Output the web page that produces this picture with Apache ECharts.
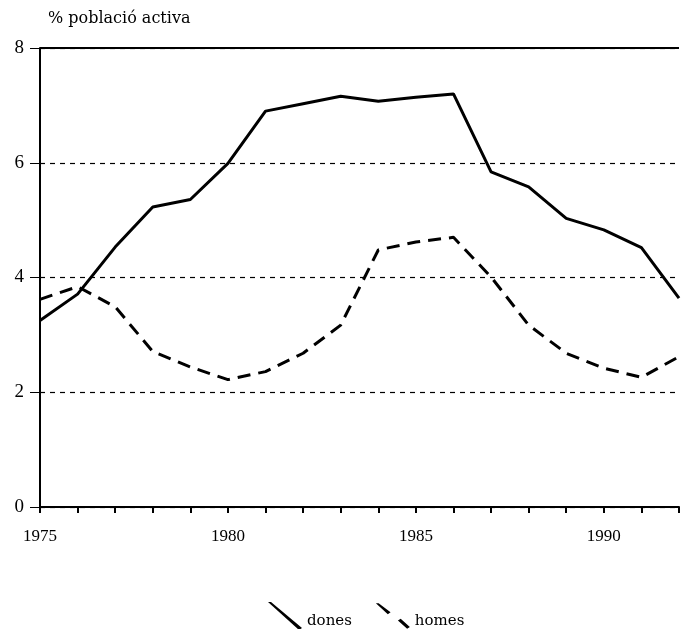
<!DOCTYPE html>
<html>
<head>
<meta charset="utf-8">
<script src="https://cdn.jsdelivr.net/npm/echarts@6/dist/echarts.min.js"></script>
<style>html,body{margin:0;padding:0;background:#fff;}#c{width:682px;height:629px;}</style>
</head>
<body>
<div id="c"></div>
<script>
const years = [1975,1976,1977,1978,1979,1980,1981,1982,1983,1984,1985,1986,1987,1988,1989,1990,1991,1992];
const dones = [3.25,3.71,4.53,5.23,5.36,5.99,6.90,7.03,7.16,7.07,7.14,7.20,5.84,5.58,5.03,4.83,4.52,3.64];
const homes = [3.62,3.84,3.49,2.71,2.44,2.22,2.36,2.68,3.17,4.48,4.62,4.70,4.01,3.17,2.68,2.42,2.26,2.62];
const xLabels = [1975,1980,1985,1990];
const yTicks = [0,2,4,6,8];
const titleText = '% població activa';
const names = ['dones','homes'];

const numFont = 'Liberation Serif';
const wordFont = 'DejaVu Serif';
const chart = echarts.init(document.getElementById('c'));
chart.setOption({
  animation: false,
  backgroundColor: '#fff',
  title: {text: titleText, left: 48, top: 11, padding: 0,
    textStyle: {fontFamily: wordFont, fontSize: 16, fontWeight: 'normal', color: '#000'}},
  grid: {left: 40, right: 0, top: 48, bottom: 122},
  legend: {
    left: 263, top: 597, itemGap: 24, itemWidth: 34, itemHeight: 28,
    formatter: n => '{t|' + n + '}',
    textStyle: {fontFamily: wordFont, fontSize: 15, color: '#000',
      rich: {t: {fontFamily: wordFont, fontSize: 15, color: '#000', padding: [10,0,0,0]}}},
    data: [
      {name: names[0], icon: 'path://M0,0 L3,0 L34,26 L31,28 Z'},
      {name: names[1], icon: 'path://M0,0 L3,0 L16,10 L13,12 Z M24,19 L27,17 L37,26 L34,28 Z'}
    ]
  },
  xAxis: {
    type: 'value', min: 1975, max: 1992, interval: 1,
    axisLine: {show: true, onZero: false, lineStyle: {color: '#000', width: 2}},
    axisTick: {show: true, length: 6, lineStyle: {color: '#000', width: 2}},
    axisLabel: {margin: 21, fontFamily: numFont, fontSize: 17, color: '#000',
      formatter: v => xLabels.includes(v) ? String(v) : ''},
    splitLine: {show: false}
  },
  yAxis: {
    type: 'value', min: yTicks[0], max: yTicks[yTicks.length-1], interval: 2,
    axisLine: {show: true, lineStyle: {color: '#000', width: 2}},
    axisTick: {show: true, length: 10, lineStyle: {color: '#000', width: 1}},
    axisLabel: {margin: 16, fontFamily: numFont, fontSize: 19, color: '#000'},
    splitLine: {show: true, lineStyle: {color: '#000', width: 1.2, type: [5,5]}}
  },
  series: [
    {name: names[0], type: 'line', data: years.map((y,i)=>[y, dones[i]]), symbol: 'none',
     lineStyle: {color: '#000', width: 3}, itemStyle: {color: '#000'},
     markLine: {silent: true, symbol: 'none', label: {show: false},
       lineStyle: {color: '#000', width: 2, type: 'solid'},
       data: [{yAxis: yTicks[yTicks.length-1]}]}},
    {name: names[1], type: 'line', data: years.map((y,i)=>[y, homes[i]]), symbol: 'none',
     lineStyle: {color: '#000', width: 3, type: [13,8]}, itemStyle: {color: '#000'}}
  ]
});
</script>
</body>
</html>
